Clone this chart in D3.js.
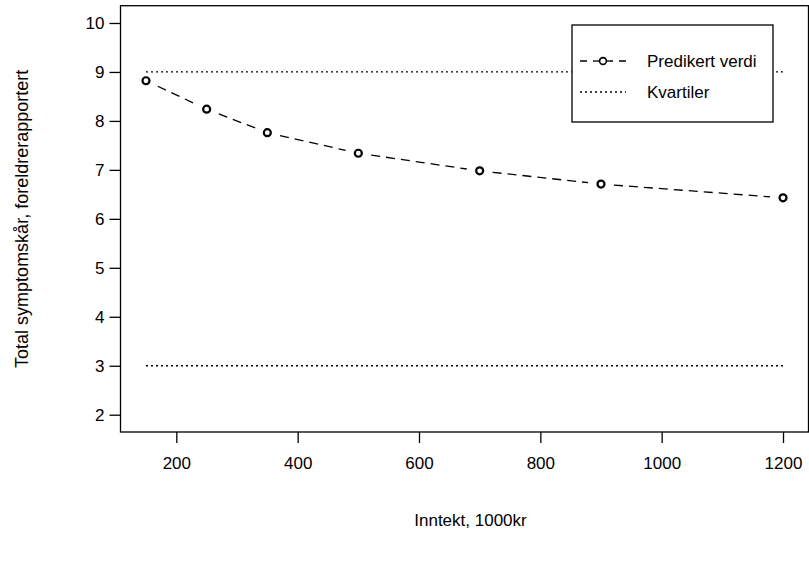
<!DOCTYPE html>
<html>
<head>
<meta charset="utf-8">
<script src="https://cdn.jsdelivr.net/npm/d3@7"></script>
<style>
  body { margin: 0; background: #fff; }
  text { font-family: "Liberation Sans", Arial, sans-serif; fill: #000; }
</style>
</head>
<body>
<svg class="chart" width="809" height="562"></svg>
<script>
// data
const incomes = [150, 250, 350, 500, 700, 900, 1200];
const predicted = [8.82, 8.24, 7.76, 7.34, 6.98, 6.71, 6.43];
const quartiles = [3, 9];
const quartileSpan = [150, 1200];
const xTicks = [200, 400, 600, 800, 1000, 1200];
const yTicks = [2, 3, 4, 5, 6, 7, 8, 9, 10];
const legendLabels = ["Predikert verdi", "Kvartiler"];

const plotLeft = 120.5, plotRight = 808.5, plotTop = 5.7, plotBottom = 432;
const fontSize = 17;

const svg = d3.select(".chart");

const xScale = d3.scaleLinear().domain([108, 1242]).range([plotLeft, plotRight]);
const yScale = d3.scaleLinear().domain([1.647, 10.353]).range([plotBottom, plotTop]);

// plot box
svg.append("rect")
  .attr("x", plotLeft).attr("y", plotTop)
  .attr("width", plotRight - plotLeft).attr("height", plotBottom - plotTop)
  .attr("fill", "none").attr("stroke", "#000").attr("stroke-width", 1.3);

// x axis
const xAxis = svg.append("g")
  .attr("transform", `translate(0, ${plotBottom})`)
  .call(d3.axisBottom(xScale).tickValues(xTicks).tickFormat(d3.format("d")).tickSize(11).tickSizeOuter(0));
xAxis.select(".domain").remove();
xAxis.selectAll("line").attr("stroke-width", 1.3);
xAxis.selectAll("text")
  .attr("font-size", fontSize).attr("font-family", "Liberation Sans, Arial, sans-serif")
  .attr("dy", 0).attr("y", 37);

// y axis
const yAxis = svg.append("g")
  .attr("transform", `translate(${plotLeft}, 0)`)
  .call(d3.axisLeft(yScale).tickValues(yTicks).tickSize(11).tickSizeOuter(0).tickPadding(5));
yAxis.select(".domain").remove();
yAxis.selectAll("line").attr("stroke-width", 1.3);
yAxis.selectAll("text")
  .attr("font-size", fontSize).attr("font-family", "Liberation Sans, Arial, sans-serif");

// axis titles
svg.append("text")
  .attr("x", (plotLeft + plotRight) / 2 + 6).attr("y", 526)
  .attr("text-anchor", "middle").attr("font-size", fontSize)
  .text("Inntekt, 1000kr");

svg.append("text")
  .attr("transform", `translate(28, ${(plotTop + plotBottom) / 2}) rotate(-90)`)
  .attr("text-anchor", "middle").attr("font-size", 18)
  .text("Total symptomskår, foreldrerapportert");

// quartile lines
svg.selectAll(".quartile")
  .data(quartiles)
  .enter()
  .append("line")
  .attr("class", "quartile")
  .attr("x1", xScale(quartileSpan[0])).attr("x2", xScale(quartileSpan[1]))
  .attr("y1", d => yScale(d)).attr("y2", d => yScale(d))
  .attr("stroke", "#000").attr("stroke-width", 1.3)
  .attr("stroke-dasharray", "2,3");

// prediction, drawn like R type="b": segments leave a gap round each point
const gap = 13;
const pts = incomes.map((d, i) => [xScale(d), yScale(predicted[i])]);
const segs = d3.pairs(pts).map(([a, b]) => {
  const dx = b[0] - a[0], dy = b[1] - a[1];
  const len = Math.hypot(dx, dy);
  const ux = dx / len, uy = dy / len;
  return [a[0] + ux * gap, a[1] + uy * gap, b[0] - ux * gap, b[1] - uy * gap];
});
svg.selectAll(".seg")
  .data(segs)
  .enter()
  .append("line")
  .attr("class", "seg")
  .attr("x1", s => s[0]).attr("y1", s => s[1])
  .attr("x2", s => s[2]).attr("y2", s => s[3])
  .attr("stroke", "#000").attr("stroke-width", 1.3)
  .attr("stroke-dasharray", "9,6");

svg.selectAll(".pt")
  .data(pts)
  .enter()
  .append("circle")
  .attr("class", "pt")
  .attr("cx", p => p[0]).attr("cy", p => p[1])
  .attr("r", 3.5)
  .attr("fill", "none").attr("stroke", "#000").attr("stroke-width", 2.2);

// legend
const legend = svg.append("g");
legend.append("rect")
  .attr("x", 572).attr("y", 25).attr("width", 201).attr("height", 97)
  .attr("fill", "#fff").attr("stroke", "#000").attr("stroke-width", 1.3);

const rowY = [61, 92];
legend.append("line")
  .attr("x1", 580).attr("x2", 626).attr("y1", rowY[0]).attr("y2", rowY[0])
  .attr("stroke", "#000").attr("stroke-width", 1.3)
  .attr("stroke-dasharray", "7,6");
legend.append("rect")
  .attr("x", 594).attr("y", rowY[0] - 5).attr("width", 16).attr("height", 10)
  .attr("fill", "#fff");
legend.append("line")
  .attr("x1", 594).attr("x2", 610).attr("y1", rowY[0]).attr("y2", rowY[0])
  .attr("stroke", "#000").attr("stroke-width", 1.3);
legend.append("circle")
  .attr("cx", 603).attr("cy", rowY[0]).attr("r", 3.4)
  .attr("fill", "#fff").attr("stroke", "#000").attr("stroke-width", 1.6);
legend.append("line")
  .attr("x1", 580).attr("x2", 626).attr("y1", rowY[1]).attr("y2", rowY[1])
  .attr("stroke", "#000").attr("stroke-width", 1.3)
  .attr("stroke-dasharray", "2,3");

legend.selectAll(".lab")
  .data(legendLabels)
  .enter()
  .append("text")
  .attr("class", "lab")
  .attr("x", 647).attr("y", (d, i) => rowY[i])
  .attr("dy", "0.35em")
  .attr("font-size", fontSize)
  .text(d => d);
</script>
</body>
</html>
